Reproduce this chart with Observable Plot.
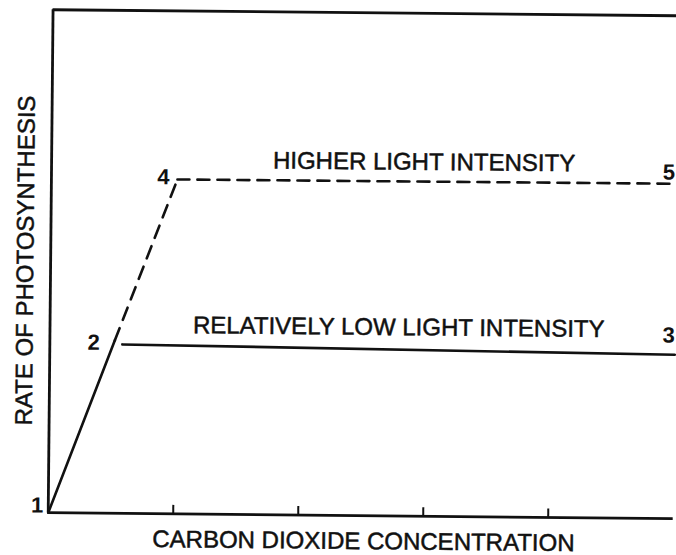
<!DOCTYPE html>
<html>
<head>
<meta charset="utf-8">
<script src="https://cdn.jsdelivr.net/npm/d3@7"></script>
<script src="https://cdn.jsdelivr.net/npm/@observablehq/plot@0.6"></script>
<style>
  html, body { margin: 0; padding: 0; background: #fff; }
  #chart svg { display: block; transform: rotate(0.55deg); transform-origin: 338px 277px; }
</style>
</head>
<body>
<div id="chart"></div>
<script>
// Rising limb (points 1 -> 2 solid, 2 -> 4 dashed)
const riseSolid = [{x: 0, y: 0}, {x: 0.52, y: 3.44}];
const riseDashed = [{x: 0.52, y: 3.44}, {x: 1.008, y: 6.65}];
// Plateaus
const highLight = [{x: 1.008, y: 6.65}, {x: 5, y: 6.66}];
const lowLight = [{x: 0.58, y: 3.36}, {x: 5, y: 3.26}];
// Point numbers
const pointLabels = [
  {x: -0.088, y: 0.14, text: "1"},
  {x: 0.35, y: 3.39, text: "2"},
  {x: 4.95, y: 3.64, text: "3"},
  {x: 0.896, y: 6.69, text: "4"},
  {x: 4.94, y: 6.88, text: "5"}
];
// Curve labels
const curveLabels = [
  {x: 2.98, y: 7.04, text: "HIGHER LIGHT INTENSITY"},
  {x: 2.79, y: 3.75, text: "RELATIVELY LOW LIGHT INTENSITY"}
];
const xTicks = [1, 2, 3, 4];
const xTitle = "CARBON DIOXIDE CONCENTRATION";
const yTitle = "RATE OF PHOTOSYNTHESIS";

const ink = "#111";
const font = "Liberation Sans, Arial, Helvetica, sans-serif";

const chart = Plot.plot({
  width: 676,
  height: 555,
  marginLeft: 50,
  marginRight: 1,
  marginTop: 12,
  marginBottom: 40,
  x: {domain: [0, 5], axis: null},
  y: {domain: [0, 10], axis: null},
  style: {fontFamily: font, background: "#fff", color: ink, overflow: "visible"},
  marks: [
    // frame: left, bottom and top edges
    Plot.ruleX([0], {stroke: ink, strokeWidth: 2.8}),
    Plot.ruleY([0, 10], {stroke: ink, strokeWidth: 2.8}),
    // inward ticks on the x axis
    Plot.ruleX(xTicks, {y1: 0, y2: 0.17, stroke: ink, strokeWidth: 2}),
    // curves
    Plot.line(riseSolid, {x: "x", y: "y", stroke: ink, strokeWidth: 2.6}),
    Plot.line(riseDashed, {x: "x", y: "y", stroke: ink, strokeWidth: 2.6, strokeDasharray: "13,9"}),
    Plot.line(highLight, {x: "x", y: "y", stroke: ink, strokeWidth: 2.6, strokeDasharray: "12,8"}),
    Plot.line(lowLight, {x: "x", y: "y", stroke: ink, strokeWidth: 2.6}),
    // labels
    Plot.text(pointLabels, {x: "x", y: "y", text: "text", fontSize: 22, fontWeight: "bold", fill: ink, textAnchor: "middle", lineAnchor: "middle"}),
    Plot.text(curveLabels, {x: "x", y: "y", text: "text", fontSize: 24, fill: ink, stroke: ink, strokeWidth: 0.5, textAnchor: "middle", lineAnchor: "middle"}),
    Plot.text([xTitle], {x: 2.524, y: -0.51, text: d => d, fontSize: 24, fill: ink, stroke: ink, strokeWidth: 0.5, textAnchor: "middle", lineAnchor: "middle"}),
    Plot.text([yTitle], {x: -0.2, y: 5.01, text: d => d, fontSize: 24, fill: ink, stroke: ink, strokeWidth: 0.5, rotate: -90, textAnchor: "middle", lineAnchor: "middle"})
  ]
});
document.getElementById("chart").appendChild(chart);
</script>
</body>
</html>
